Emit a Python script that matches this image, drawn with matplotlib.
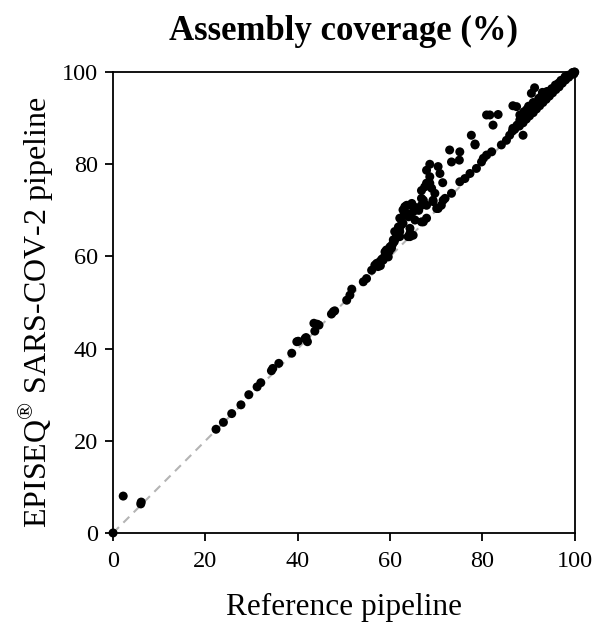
import matplotlib
matplotlib.use("Agg")
import matplotlib.pyplot as plt

plt.rcParams['font.family'] = ['Liberation Serif', 'DejaVu Serif']
plt.rcParams['mathtext.fontset'] = 'custom'
plt.rcParams['mathtext.rm'] = 'Liberation Serif'

title = "Assembly coverage (%)"
xlabel = "Reference pipeline"
ylabel = r"EPISEQ$^{\circledR}$ SARS-COV-2 pipeline"
ticks = [0, 20, 40, 60, 80, 100]

# Reference pipeline coverage (%)
ref = [0.0, 2.2, 6.0, 6.1, 22.3, 23.9, 25.7, 27.7, 29.4, 31.2, 32.0, 34.3, 34.6, 35.9,
       38.7, 39.8, 40.1, 41.6, 41.8, 42.1, 43.5, 43.7, 44.2, 44.6, 47.3, 47.7, 48.0,
       50.6, 51.3, 51.7, 54.2, 54.9, 56.0, 56.7, 57.1, 57.4, 57.8, 58.5, 58.9, 59.2,
       59.6, 60.0, 60.3, 60.7, 61.0, 61.4, 61.8, 62.1, 62.1, 62.1, 62.8, 62.8, 63.2,
       63.6, 63.9, 64.3, 64.3, 64.3, 64.7, 64.7, 65.0, 65.0, 65.4, 66.8, 66.8, 66.8,
       66.8, 67.2, 67.2, 67.5, 67.9, 67.9, 67.9, 67.9, 68.6, 68.6, 68.6, 69.0, 69.3,
       69.3, 69.7, 70.1, 70.4, 70.4, 70.8, 71.1, 71.4, 71.5, 71.9, 72.9, 73.3, 73.3,
       75.0, 75.1, 75.1, 76.2, 77.3, 77.6, 78.4, 78.4, 78.7, 79.8, 80.2, 80.9, 80.9,
       81.6, 82.0, 82.3, 83.4, 84.1, 85.2, 85.9, 86.6, 86.6, 87.4, 88.1, 88.1, 88.8,
       90.6, 91.3,
       86.5, 87.0, 87.5, 88.0, 88.4, 88.8, 89.2, 89.5, 89.9, 90.2, 90.6, 91.0, 91.3,
       91.7, 92.0, 92.4, 92.7, 93.1, 93.4, 93.8, 94.1, 94.5, 94.8, 95.2, 95.5, 95.9,
       96.2, 96.6, 96.9, 97.3, 97.6, 98.0, 98.3, 98.7, 99.0, 99.3, 99.6, 99.9, 100.0,
       99.8, 97.9, 96.5, 95.0, 93.5, 92.2, 91.0, 90.0, 89.0, 94.0, 95.8, 97.0, 98.5,
       99.5, 92.8, 93.0, 89.6,
       58.2, 58.6, 59.0, 59.4, 59.8, 60.2, 60.5, 60.9, 61.2, 61.6, 62.0, 62.4, 63.0,
       63.4, 63.8, 64.0, 65.6, 66.2, 57.5, 57.9]

# EPISEQ SARS-COV-2 pipeline coverage (%)
episeq = [0.0, 8.0, 6.3, 6.7, 22.5, 24.0, 25.9, 27.8, 30.0, 31.7, 32.6, 35.2, 35.7, 36.8,
          39.0, 41.5, 41.6, 42.2, 42.4, 41.5, 45.5, 43.8, 45.3, 45.1, 47.5, 48.0, 48.2,
          50.5, 51.6, 52.9, 54.5, 55.2, 57.0, 58.1, 58.5, 57.8, 58.9, 59.2, 61.0, 61.4,
          59.9, 62.1, 61.8, 63.6, 65.4, 64.3, 66.4, 68.3, 64.3, 65.4, 70.1, 67.2, 70.8,
          71.1, 64.3, 66.1, 65.0, 64.3, 71.5, 71.1, 69.7, 64.6, 67.9, 74.3, 71.1, 67.5,
          72.6, 72.2, 67.5, 75.1, 78.7, 75.9, 68.3, 71.1, 80.0, 77.3, 75.9, 74.8, 71.9,
          72.2, 73.7, 70.4, 79.5, 70.4, 78.0, 71.1, 76.0, 72.2, 72.6, 83.1, 80.5, 73.7,
          80.9, 82.7, 76.2, 76.9, 78.0, 86.3, 84.4, 84.2, 79.1, 80.5, 81.3, 82.0, 90.7,
          90.7, 82.7, 88.5, 90.8, 84.2, 85.2, 86.3, 87.8, 92.7, 92.5, 90.7, 89.6, 86.3,
          95.4, 96.6,
          87.2, 87.6, 88.5, 88.3, 89.6, 89.0, 90.5, 89.8, 91.2, 90.5, 91.8, 91.2, 92.6,
          92.0, 93.4, 92.7, 94.0, 93.4, 94.6, 94.1, 95.3, 94.8, 95.9, 95.5, 96.6, 96.2,
          97.2, 96.8, 97.8, 97.6, 98.4, 98.3, 98.9, 98.9, 99.4, 99.5, 99.8, 100.0, 100.0,
          99.6, 99.0, 97.6, 96.4, 95.4, 94.3, 93.4, 92.6, 91.4, 95.8, 97.2, 98.2, 99.3,
          99.9, 94.8, 95.6, 91.9,
          59.4, 59.7, 60.1, 60.6, 61.1, 62.0, 62.6, 63.2, 63.9, 64.8, 65.9, 66.8, 68.9,
          69.5, 69.0, 68.6, 70.6, 70.0, 58.2, 58.0]

fig = plt.figure(figsize=(5.95, 6.27), dpi=100)
ax = fig.add_axes([0.190, 0.150, 0.776, 0.735])

ax.plot([0, 100], [0, 100], color='#b4b4b4', linestyle=(0, (4, 3)), linewidth=1.5, zorder=1)
ax.scatter(ref, episeq, s=42, color='black', edgecolors='none', zorder=3, clip_on=False)

ax.set_xlim(0, 100)
ax.set_ylim(0, 100)
ax.set_xticks(ticks)
ax.set_yticks(ticks)
ax.tick_params(axis='both', direction='out', length=6, width=1.3, labelsize=17.5, pad=5,
               top=False, right=False)
ax.tick_params(axis='x', pad=7)
for s in ax.spines.values():
    s.set_linewidth(1.3)

ax.set_title(title, fontsize=25, fontweight='bold', pad=23)
ax.set_xlabel(xlabel, fontsize=22.5, labelpad=15)
ax.set_ylabel(ylabel, fontsize=23)
ax.yaxis.set_label_coords(-0.126, 0.48)

fig.savefig("out.png", dpi=100)
